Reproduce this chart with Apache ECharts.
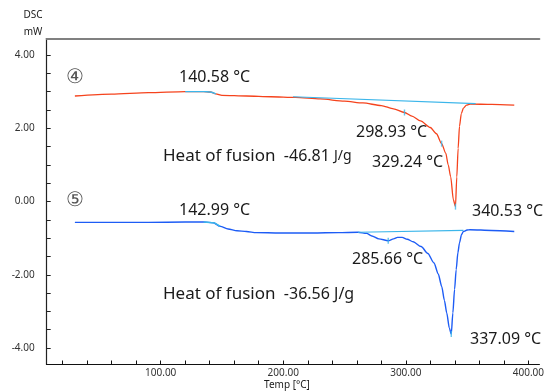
<!DOCTYPE html>
<html>
<head>
<meta charset="utf-8">
<script src="https://cdn.jsdelivr.net/npm/echarts@6/dist/echarts.min.js"></script>
<style>
  html, body { margin: 0; padding: 0; background: #fff; }
  #chart { width: 547px; height: 392px; }
</style>
</head>
<body>
<div id="chart"></div>
<script>
// Sample 4 – DSC trace (temperature °C, heat flow mW)
const temps4 = [30, 60, 90, 120, 135, 140.58, 145, 150, 170, 190, 210, 230, 250, 265, 280, 290, 298.93,
  305, 312, 320, 325, 329.24, 332.6, 334.6, 336.6, 338.8, 340.53, 341.6, 342.7, 343.8, 345.3, 347, 349.5, 352.4, 370, 388.5];
const dsc4 = [2.88, 2.93, 2.97, 3.00, 3.00, 2.99, 2.94, 2.90, 2.88, 2.86, 2.84, 2.80, 2.74, 2.69, 2.62, 2.53, 2.43,
  2.33, 2.20, 2.02, 1.85, 1.58, 1.32, 1.00, 0.68, 0.05, -0.14, 0.67, 1.45, 2.05, 2.40, 2.55, 2.63, 2.66, 2.65, 2.63];

// Sample 5 – DSC trace
const temps5 = [30, 60, 90, 120, 135, 142.99, 148.6, 155, 162.3, 170, 178, 197, 224, 245, 261, 268, 272.3, 278, 285.66,
  290, 293.2, 297, 301.2, 306, 312.5, 318, 323, 326.5, 329.3, 331.5, 333.4, 335.5, 337.09, 338.4, 339.8, 341.1, 342.5,
  343.8, 345.5, 347, 350, 352.4, 370, 388.5];
const dsc5 = [-0.57, -0.57, -0.57, -0.56, -0.56, -0.58, -0.68, -0.75, -0.80, -0.82, -0.85, -0.86, -0.86, -0.85, -0.84,
  -0.87, -0.94, -1.02, -1.07, -1.02, -0.98, -0.98, -1.03, -1.10, -1.23, -1.42, -1.68, -1.98, -2.32, -2.70, -3.04, -3.45,
  -3.62, -3.04, -2.40, -1.86, -1.40, -1.13, -0.90, -0.82, -0.78, -0.77, -0.79, -0.82];

// Integration baselines (start / end)
const base4Temps = [208, 357];
const base4Vals = [2.86, 2.67];
const base5Temps = [261, 347];
const base5Vals = [-0.84, -0.79];

// Glass-transition analysis windows
const tg4Range = [120, 145];
const tg5Range = [122, 148.6];

// Picked peak / onset temperatures
const picks4 = [298.93, 329.24, 340.53];
const picks5 = [285.66, 337.09];

// Axis ticks and labels
const xTickValues = [20, 40, 60, 80, 100, 120, 140, 160, 180, 200, 220, 240, 260, 280, 300, 320, 340, 360, 380, 400];
const xLabelValues = [100, 200, 300, 400];
const yTickValues = [-4, -3.5, -3, -2.5, -2, -1.5, -1, -0.5, 0, 0.5, 1, 1.5, 2, 2.5, 3, 3.5, 4];
const yLabelValues = [-4, -2, 0, 2, 4];

const RED = '#f5431d';
const BLUE = '#1d5cf5';
const LIGHT = '#3cb6ea';
const TXT = '#1a1a1a';
const FONT = 'Noto Sans';

const zip = (xs, ys) => xs.map((x, i) => [x, ys[i]]);
const within = (xs, ys, r) => zip(xs, ys).filter(p => p[0] >= r[0] && p[0] <= r[1]);
const picked = (xs, ys, ps) => ps.map(t => [t, ys[xs.indexOf(t)]]);

const chart = echarts.init(document.getElementById('chart'), null, { renderer: 'canvas' });

const lineBase = { type: 'line', showSymbol: false, silent: true, smooth: 0.25, smoothMonotone: 'x' };

const annot = (x, y, text) => ({
  type: 'text', x, y,
  style: { text, fill: TXT, font: '16px "' + FONT + '"', textVerticalAlign: 'middle' }
});

// "Heat of fusion" caption: label, value, unit
const fusion = (x, y, value, unitSize) => ({
  type: 'text', x, y,
  style: {
    text: '{a|Heat of fusion}{v|  ' + value + ' }{u|J/g}', textVerticalAlign: 'middle',
    rich: {
      a: { fill: TXT, fontSize: 17, fontFamily: FONT },
      v: { fill: TXT, fontSize: 16, fontFamily: FONT },
      u: { fill: TXT, fontSize: unitSize, fontFamily: FONT }
    }
  }
});

chart.setOption({
  animation: false,
  grid: { left: 46.7, right: 0, top: 38.5, bottom: 27.5 },
  xAxis: [{
    type: 'value', min: 7, max: 409,
    axisLine: { onZero: false, lineStyle: { color: '#111', width: 1.2 } },
    axisTick: { inside: true, length: 4, customValues: xTickValues, lineStyle: { color: '#111' } },
    axisLabel: {
      customValues: xLabelValues, formatter: v => v.toFixed(2),
      color: '#333', fontSize: 10, fontFamily: FONT, margin: 4
    },
    splitLine: { show: false }
  }, {
    type: 'value', position: 'top', min: 7, max: 409,
    axisLine: { show: true, onZero: false, lineStyle: { color: '#808080', width: 2 } },
    axisTick: { show: false }, axisLabel: { show: false }, splitLine: { show: false }
  }],
  yAxis: {
    type: 'value', min: -4.45, max: 4.45,
    axisLine: { show: true, onZero: false, lineStyle: { color: '#222', width: 1.2 } },
    axisTick: { show: true, inside: true, length: 4, customValues: yTickValues, lineStyle: { color: '#222' } },
    axisLabel: {
      customValues: yLabelValues, formatter: v => v.toFixed(2),
      color: '#333', fontSize: 10, fontFamily: FONT, margin: 12
    },
    splitLine: { show: false }
  },
  series: [
    Object.assign({}, lineBase, { name: 'base4', data: zip(base4Temps, base4Vals), smooth: false, lineStyle: { color: LIGHT, width: 1.2 }, z: 3 }),
    Object.assign({}, lineBase, { name: 'base5', data: zip(base5Temps, base5Vals), smooth: false, lineStyle: { color: LIGHT, width: 1.2 }, z: 3 }),
    Object.assign({}, lineBase, { name: '④', data: zip(temps4, dsc4), lineStyle: { color: RED, width: 1.3 }, z: 2 }),
    Object.assign({}, lineBase, { name: '⑤', data: zip(temps5, dsc5), lineStyle: { color: BLUE, width: 1.4 }, z: 2 }),
    Object.assign({}, lineBase, { name: 'tg4', data: within(temps4, dsc4, tg4Range), lineStyle: { color: LIGHT, width: 1.4 }, z: 4 }),
    Object.assign({}, lineBase, { name: 'tg5', data: within(temps5, dsc5, tg5Range), lineStyle: { color: LIGHT, width: 1.4 }, z: 4 }),
    {
      type: 'scatter', silent: true, z: 5,
      data: picked(temps4, dsc4, picks4).concat(picked(temps5, dsc5, picks5)),
      symbol: 'rect', symbolSize: [1.4, 6], itemStyle: { color: LIGHT }
    }
  ],
  graphic: [
    { type: 'text', x: 33, y: 15, style: { text: 'DSC', fill: TXT, font: '10px "' + FONT + '"', textAlign: 'center', textVerticalAlign: 'middle' } },
    { type: 'text', x: 33, y: 32, style: { text: 'mW', fill: TXT, font: '10px "' + FONT + '"', textAlign: 'center', textVerticalAlign: 'middle' } },
    { type: 'text', x: 287, y: 385, style: { text: 'Temp [°C]', fill: TXT, font: '10px "' + FONT + '"', textAlign: 'center', textVerticalAlign: 'middle' } },
    { type: 'text', x: 75, y: 77, style: { text: '④', fill: '#555', font: '20px "' + FONT + '"', textAlign: 'center', textVerticalAlign: 'middle' } },
    { type: 'text', x: 75, y: 200, style: { text: '⑤', fill: '#555', font: '20px "' + FONT + '"', textAlign: 'center', textVerticalAlign: 'middle' } },
    annot(179, 77, '140.58 °C'),
    annot(356, 132, '298.93 °C'),
    fusion(163, 156, '-46.81', 14),
    annot(372, 162, '329.24 °C'),
    annot(472, 211, '340.53 °C'),
    annot(179, 210, '142.99 °C'),
    annot(352, 259, '285.66 °C'),
    fusion(163, 294, '-36.56', 16),
    annot(470, 339, '337.09 °C')
  ]
});
</script>
</body>
</html>
